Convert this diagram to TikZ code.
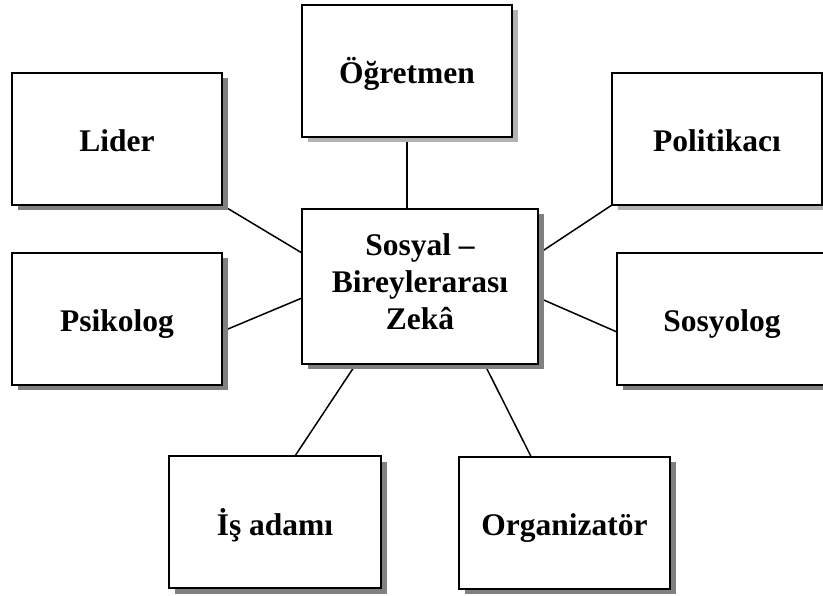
\documentclass[tikz,border=0pt]{standalone}
\usepackage{fontspec}
\setmainfont{Liberation Serif}
\usetikzlibrary{calc,shadows}
\pgfdeclarelayer{background}
\pgfsetlayers{background,main}

\tikzset{
  x=1pt, y=-1pt,
  box/.style={draw=black, line width=2pt, fill=white, inner sep=0pt, outer sep=0pt,
    minimum width=210pt, minimum height=132pt,
    font=\fontsize{31.5}{37}\selectfont\bfseries,
    text height=26pt, text depth=0pt},
  darkshadow/.style={drop shadow={shadow xshift=5.5pt, shadow yshift=-5.5pt, fill=black!50, opacity=1}},
  lightshadow/.style={drop shadow={shadow xshift=5.5pt, shadow yshift=-5.5pt, fill=black!30, opacity=1}},
  link/.style={draw=black, line width=1.5pt},
}

\begin{document}
\begin{tikzpicture}
\useasboundingbox (0,0) rectangle (823,596);

% outer boxes
\node[box, lightshadow] (ogr) at (407,71) {Öğretmen};
\node[box, darkshadow] (lid) at (117,139) {Lider};
\node[box, darkshadow] (psi) at (117,319) {Psikolog};
\node[box, lightshadow] (pol) at (717,139) {Politikacı};
\node[box, darkshadow] (sos) at (722,319) {Sosyolog};
\node[box, darkshadow, minimum width=212pt] (isa) at (275,522) {İş adamı};
\node[box, darkshadow, minimum width=211pt] (org) at (564.5,522.5) {Organizatör};

% central box
\node[box, darkshadow, minimum width=236pt, minimum height=155pt, align=center,
      text height=, text depth=10pt] (cen) at (420,286.5) {Sosyal –\\Bireylerarası\\Zekâ};

% connectors behind the boxes
\begin{pgfonlayer}{background}
  \draw[link] (ogr.south) -- (ogr.south |- cen.north);
  \draw[link] (lid.south east) -- ($(cen.west)+(0,-33.5)$);
  \draw[link] ($(psi.east)+(0,12.5)$) -- ($(cen.west)+(0,11.5)$);
  \draw[link] ($(cen.east)+(0,-32.5)$) -- (pol.south west);
  \draw[link] ($(cen.east)+(0,11)$) -- ($(sos.west)+(0,13)$);
  \draw[link] ($(cen.south)+(-64,0)$) -- ($(isa.north)+(20,0)$);
  \draw[link] ($(cen.south)+(64.5,0)$) -- ($(org.north)+(-33.5,0)$);
\end{pgfonlayer}
\end{tikzpicture}
\end{document}
